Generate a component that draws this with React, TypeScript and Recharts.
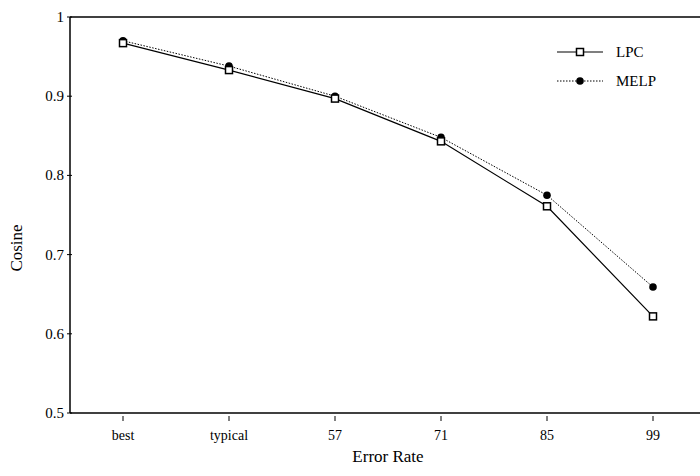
import { LineChart, Line, XAxis, YAxis, ReferenceLine } from 'recharts';

const categories = ['best', 'typical', '57', '71', '85', '99'];
const lpcValues = [0.967, 0.933, 0.897, 0.843, 0.761, 0.622];
const melpValues = [0.970, 0.938, 0.900, 0.848, 0.775, 0.659];
const yTicks = [0.5, 0.6, 0.7, 0.8, 0.9, 1];

const data = categories.map((name, i) => ({ name, LPC: lpcValues[i], MELP: melpValues[i] }));

const FONT = '"Liberation Serif", "Times New Roman", serif';

// hollow square marker for LPC
const SquareDot = (props: any) => {
    const { cx, cy } = props;
    if (cx == null || cy == null) return null;
    return <rect x={cx - 3.5} y={cy - 3.5} width={7} height={7} fill="#fff" stroke="#000" strokeWidth={1.5} />;
};

const CircleDot = (props: any) => {
    const { cx, cy } = props;
    if (cx == null || cy == null) return null;
    return <circle cx={cx} cy={cy} r={3.8} fill="#000" />;
};

// x ticks point up into the plot
const XTick = ({ x, y, payload }: any) => (
    <g>
        <line x1={x} x2={x} y1={y} y2={y - 5} stroke="#000" />
        <text x={x} y={y + 19} textAnchor="middle" fontFamily={FONT} fontSize={14} fill="#000">
            {payload.value}
        </text>
    </g>
);

const YTick = ({ x, y, payload }: any) => (
    <g>
        <line x1={x + 5} x2={x + 10} y1={y} y2={y} stroke="#000" />
        <text x={x + 2} y={y + 5} textAnchor="end" fontFamily={FONT} fontSize={15} fill="#000">
            {payload.value}
        </text>
    </g>
);

const LegendBox = () => (
    <svg width={120} height={50} style={{ position: 'absolute', left: 555, top: 44 }}>
        <line x1={2} x2={48} y1={8} y2={8} stroke="#000" strokeWidth={1.2} />
        <rect x={21.5} y={4.5} width={7} height={7} fill="#fff" stroke="#000" strokeWidth={1.5} />
        <text x={61} y={13} fontFamily={FONT} fontSize={15} fill="#000">LPC</text>
        <line x1={2} x2={48} y1={37} y2={37} stroke="#000" strokeWidth={1} strokeDasharray="1.5 1.5" />
        <circle cx={25} cy={37} r={3.8} fill="#000" />
        <text x={61} y={42} fontFamily={FONT} fontSize={15} fill="#000">MELP</text>
    </svg>
);

export default function App() {
    return (
        <div style={{ position: 'absolute', left: 0, top: 0, width: 700, height: 476, overflow: 'hidden', background: '#fff' }}>
            <LineChart width={720} height={476} data={data} margin={{ top: 17, right: 14, bottom: 18, left: 0 }}>
                <XAxis
                    dataKey="name"
                    scale="band"
                    axisLine={{ stroke: '#000', strokeWidth: 1.5 }}
                    tickLine={false}
                    tick={<XTick />}
                    height={45}
                    label={{ value: 'Error Rate', position: 'insideBottom', offset: -4, fontFamily: FONT, fontSize: 17, fill: '#000' }}
                />
                <YAxis
                    domain={[0.5, 1]}
                    ticks={yTicks}
                    width={70}
                    axisLine={{ stroke: '#000', strokeWidth: 1.5 }}
                    tickLine={false}
                    tick={<YTick />}
                    label={{
                        content: () => (
                            <text x={22} y={248} transform="rotate(-90 22 248)" textAnchor="middle" fontFamily={FONT} fontSize={17} fill="#000">
                                Cosine
                            </text>
                        ),
                    }}
                />
                <ReferenceLine y={1} stroke="#000" strokeWidth={1.5} />
                <Line
                    type="linear"
                    dataKey="MELP"
                    stroke="#000"
                    strokeWidth={1}
                    strokeDasharray="1.5 1.5"
                    dot={<CircleDot />}
                    isAnimationActive={false}
                />
                <Line
                    type="linear"
                    dataKey="LPC"
                    stroke="#000"
                    strokeWidth={1.2}
                    dot={<SquareDot />}
                    isAnimationActive={false}
                />
            </LineChart>
            <LegendBox />
        </div>
    );
}
